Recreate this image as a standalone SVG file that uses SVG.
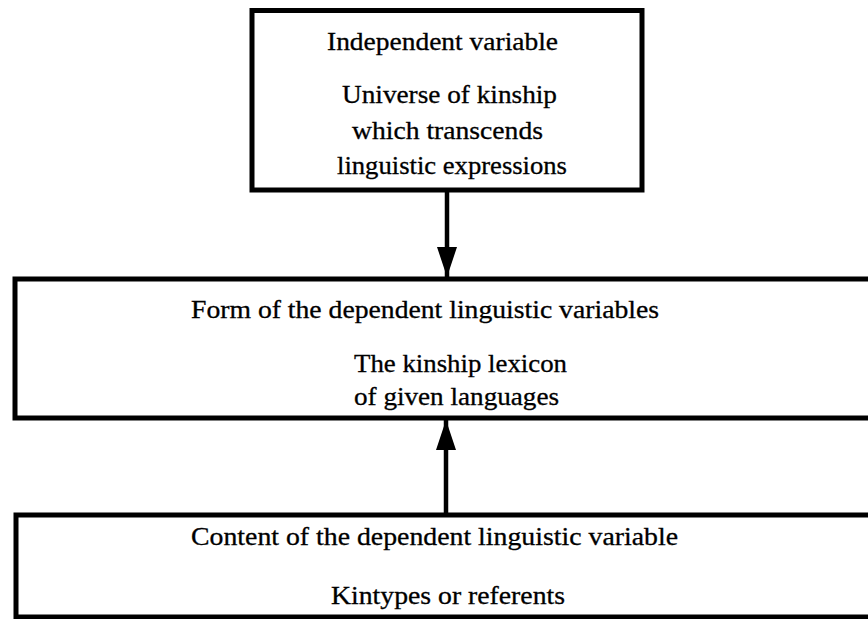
<svg xmlns="http://www.w3.org/2000/svg" width="868" height="619" viewBox="0 0 868 619">
<style>
.box{fill:#fff;stroke:#000;stroke-width:5}
.t{font-family:"Liberation Serif","Times New Roman",serif;font-size:25px;fill:#000;stroke:#000;stroke-width:0.3}
.conn{stroke:#000;stroke-width:4.5;fill:none}
</style>
<defs>
<marker id="ah" viewBox="0 0 30 20" markerWidth="30" markerHeight="20" refX="30" refY="10" orient="auto" markerUnits="userSpaceOnUse">
<path d="M0,0 L30,10 L0,20 z" fill="#000"/>
</marker>
</defs>
<rect width="868" height="619" fill="#fff"/>
<g id="independent">
<rect class="box" x="252" y="10.5" width="390" height="179.5"/>
<text class="t" x="327" y="50" textLength="231" lengthAdjust="spacingAndGlyphs">Independent variable</text>
<text class="t" x="342" y="103" textLength="215" lengthAdjust="spacingAndGlyphs">Universe of kinship</text>
<text class="t" x="352" y="139" textLength="191" lengthAdjust="spacingAndGlyphs">which transcends</text>
<text class="t" x="337" y="174" textLength="230" lengthAdjust="spacingAndGlyphs">linguistic expressions</text>
</g>
<g id="form">
<rect class="box" x="15" y="279" width="860" height="139"/>
<text class="t" x="191" y="318" textLength="468" lengthAdjust="spacingAndGlyphs">Form of the dependent linguistic variables</text>
<text class="t" x="354" y="372" textLength="213" lengthAdjust="spacingAndGlyphs">The kinship lexicon</text>
<text class="t" x="354" y="405" textLength="205" lengthAdjust="spacingAndGlyphs">of given languages</text>
</g>
<g id="content">
<rect class="box" x="16" y="515" width="860" height="102"/>
<text class="t" x="191" y="545" textLength="487" lengthAdjust="spacingAndGlyphs">Content of the dependent linguistic variable</text>
<text class="t" x="331" y="604" textLength="234" lengthAdjust="spacingAndGlyphs">Kintypes or referents</text>
</g>
<g id="connectors">
<path class="conn" d="M447,192 L447,277" marker-end="url(#ah)"/>
<path class="conn" d="M446,513 L446,420" marker-end="url(#ah)"/>
</g>
</svg>
